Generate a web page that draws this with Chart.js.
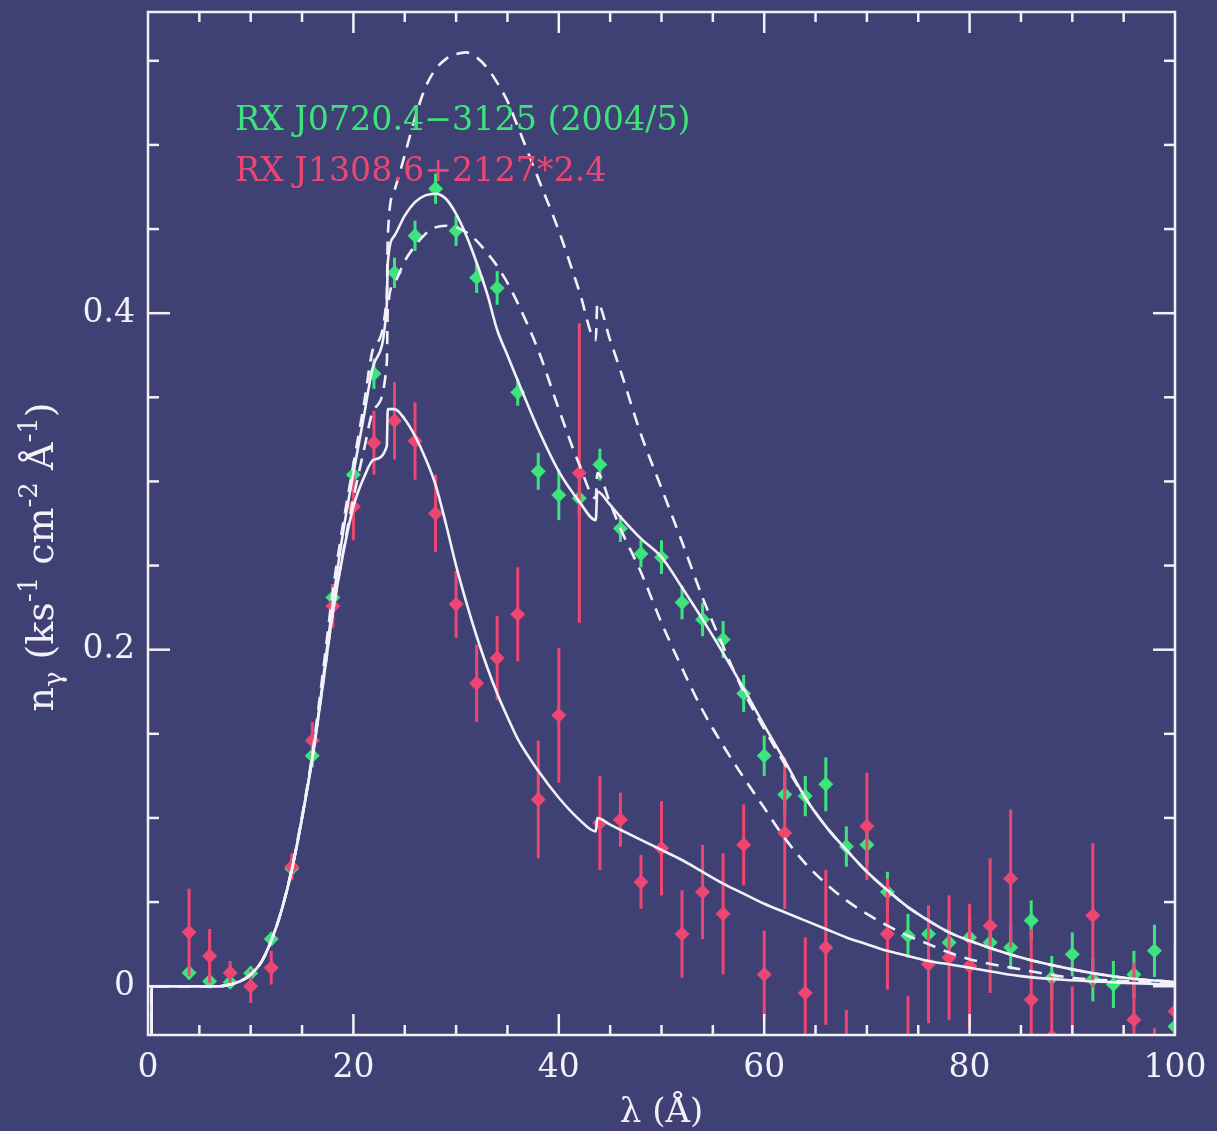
<!DOCTYPE html>
<html>
<head>
<meta charset="utf-8">
<script src="https://cdn.jsdelivr.net/npm/chart.js@4.4.1/dist/chart.umd.min.js"></script>
<style>
  html, body { margin: 0; padding: 0; background: #3f4175; }
  #wrap { width: 1217px; height: 1131px; position: relative; }
</style>
</head>
<body>
<div id="wrap"><canvas id="spec"></canvas></div>
<script>
// binned spectra, wavelength in Angstrom
const lam = [4,6,8,10,12,14,16,18,20,22,24,26,28,30,32,34,36,38,40,42,44,46,48,50,52,
             54,56,58,60,62,64,66,68,70,72,74,76,78,80,82,84,86,88,90,92,94,96,98,100];

// RX J0720.4-3125 (2004/5)
const greenFlux = [0.008,0.003,0.0024,0.0077,0.028,0.070,0.137,0.231,0.304,0.364,0.424,0.446,0.474,
                   0.449,0.421,0.415,0.353,0.306,0.292,0.290,0.310,0.272,0.257,0.255,0.228,0.218,
                   0.206,0.174,0.137,0.114,0.113,0.120,0.083,0.084,0.056,0.030,0.031,0.026,0.029,
                   0.026,0.023,0.039,0.005,0.019,0.004,0.001,0.007,0.021,-0.024];
const greenErr  = [0.004,0.004,0.003,0.004,0.004,0.006,0.007,0.008,0.008,0.009,0.009,0.009,0.009,
                   0.009,0.009,0.010,0.008,0.011,0.015,0.010,0.0095,0.008,0.008,0.010,0.010,0.010,
                   0.011,0.011,0.012,0.012,0.012,0.016,0.012,0.012,0.012,0.013,0.013,0.013,0.013,
                   0.013,0.013,0.012,0.013,0.013,0.013,0.014,0.014,0.0155,0.015];

// RX J1308.6+2127 scaled by 2.4
const redFlux = [0.032,0.018,0.008,0.000,0.011,0.071,0.146,0.226,0.285,0.323,0.336,0.324,0.281,
                 0.227,0.180,0.195,0.221,0.111,0.161,0.305,0.097,0.099,0.062,0.082,0.031,0.056,
                 0.043,0.084,0.007,0.091,-0.004,0.023,-0.055,0.095,0.031,-0.045,0.013,0.017,0.012,
                 0.036,0.064,-0.008,-0.030,-0.040,0.042,-0.090,-0.020,-0.060,-0.015];
const redErr  = [0.026,0.016,0.007,0.010,0.010,0.008,0.011,0.013,0.020,0.019,0.023,0.023,0.023,
                 0.020,0.023,0.025,0.028,0.035,0.040,0.089,0.028,0.016,0.016,0.028,0.026,0.028,
                 0.036,0.024,0.026,0.045,0.033,0.046,0.041,0.032,0.033,0.039,0.035,0.037,0.037,
                 0.040,0.041,0.042,0.036,0.040,0.043,0.040,0.034,0.035,0.039];

// model curves
const modelLam = [0.35,0.36,7, 8,9,10,11,12,13,14,15,16,17,18,19,20,21,22, 23.25,23.35,
                  24,25,26,27,28,29,30,31,32,33,34,35,36, 38,40,42, 43.6,43.75, 45,46,
                  48,50,52,54,56,58,60,62,64,66,68,70,72,74,76,78,80, 85,90,95,100];
const fitGreen = [-0.05,0,0, 0.001,0.003,0.007,0.014,0.027,0.045,0.069,0.100,0.136,0.180,0.228,0.270,0.305,0.338,0.370,
                  0.405,0.430, 0.446,0.458,0.466,0.470,0.471,0.468,0.459,0.446,0.430,0.412,0.390,0.375,0.360,
                  0.331,0.306,0.288, 0.277,0.294, 0.286,0.279,
                  0.266,0.255,0.237,0.218,0.198,0.177,0.155,0.134,0.112,0.095,0.081,0.068,0.057,0.047,0.039,0.032,0.027,
                  0.017,0.010,0.005,0.0025];
const fitRed = [-0.05,0,0, 0.001,0.003,0.007,0.014,0.027,0.045,0.069,0.100,0.135,0.178,0.222,0.257,0.285,0.302,0.313,
                0.321,0.343, 0.343,0.337,0.327,0.314,0.298,0.275,0.250,0.228,0.208,0.190,0.174,0.160,0.147,
                0.128,0.112,0.099, 0.092,0.100, 0.096,0.093,
                0.087,0.081,0.075,0.068,0.061,0.055,0.049,0.044,0.039,0.034,0.029,0.025,0.021,0.018,0.015,0.013,0.011,
                0.006,0.0035,0.002,0.001];
const modelHot = [-0.05,0,0, 0.001,0.003,0.007,0.014,0.027,0.045,0.070,0.101,0.138,0.185,0.235,0.275,0.310,0.345,0.380,
                  0.410,0.446, 0.473,0.494,0.516,0.534,0.545,0.551,0.554,0.555,0.552,0.546,0.537,0.526,0.511,
                  0.480,0.449,0.413, 0.384,0.406, 0.384,0.366,
                  0.328,0.296,0.264,0.231,0.202,0.175,0.153,0.132,0.112,0.095,0.081,0.068,0.057,0.047,0.039,0.032,0.027,
                  0.017,0.010,0.005,0.0025];
const modelCool = [-0.05,0,0, 0.001,0.003,0.007,0.014,0.027,0.045,0.069,0.100,0.136,0.178,0.222,0.258,0.290,0.318,0.343,
                   0.370,0.402, 0.418,0.431,0.440,0.447,0.451,0.452,0.451,0.448,0.443,0.436,0.428,0.418,0.406,
                   0.378,0.343,0.310, 0.290,0.305, 0.287,0.272,
                   0.246,0.216,0.189,0.164,0.143,0.124,0.106,0.088,0.073,0.061,0.051,0.043,0.036,0.030,0.025,0.020,0.016,
                   0.010,0.005,0.003,0.002];

const xTicks = [0,20,40,60,80,100];
const yTicks = [0,0.2,0.4];
const labels = ['RX J0720.4\u22123125 (2004/5)', 'RX J1308.6+2127*2.4'];

const GREEN = '#3de47c', RED = '#ee4672', WHITE = '#f2f1f8';
const pts = (xs, ys) => xs.map((x, i) => ({x: x, y: ys[i]}));

function curve(ys, dash) {
    return {type: 'line', data: pts(modelLam, ys), borderColor: WHITE, borderWidth: 2.6,
            borderDash: dash, pointRadius: 0, cubicInterpolationMode: 'monotone', order: 0};
}
function spectrum(ys, errs, color, ord) {
    return {data: pts(lam, ys), errors: errs, backgroundColor: color, borderColor: color,
            borderWidth: 0, pointStyle: 'rectRot', pointRadius: 7.5, showLine: false, order: ord};
}

// vertical error bars, drawn just before the points of the same dataset
const errBars = {
    id: 'errBars',
    beforeDatasetDraw(chart, args) {
        const ds = chart.data.datasets[args.index];
        if (!ds.errors) return;
        const {ctx, chartArea: a, scales: {x, y}} = chart;
        ctx.save();
        ctx.beginPath();
        ctx.rect(a.left, a.top, a.right - a.left, a.bottom - a.top);
        ctx.clip();
        ctx.strokeStyle = ds.borderColor;
        ctx.lineWidth = 3;
        ds.data.forEach((p, i) => {
            const px = x.getPixelForValue(p.x);
            ctx.beginPath();
            ctx.moveTo(px, y.getPixelForValue(p.y - ds.errors[i]));
            ctx.lineTo(px, y.getPixelForValue(p.y + ds.errors[i]));
            ctx.stroke();
        });
        ctx.restore();
    }
};

// box, inward ticks on all sides, legend text and axis titles
const frame = {
    id: 'frame',
    afterDraw(chart) {
        const {ctx, chartArea: a, scales: {x, y}} = chart;
        const seg = (x1, y1, x2, y2) => { ctx.beginPath(); ctx.moveTo(x1, y1); ctx.lineTo(x2, y2); ctx.stroke(); };
        ctx.save();
        ctx.strokeStyle = WHITE;
        ctx.lineWidth = 2.5;
        ctx.strokeRect(a.left, a.top, a.right - a.left, a.bottom - a.top);
        for (let v = 5; v < 100; v += 5) {
            const px = x.getPixelForValue(v);
            const len = xTicks.includes(v) ? 21 : 10;
            seg(px, a.bottom, px, a.bottom - len);
            seg(px, a.top, px, a.top + len);
        }
        for (let k = 1; k <= 11; k++) {
            const v = k * 0.05;
            const py = y.getPixelForValue(v);
            const len = (k % 4 === 0) ? 22 : 11;
            seg(a.left, py, a.left + len, py);
            seg(a.right, py, a.right - len, py);
        }
        const p0 = y.getPixelForValue(0);
        seg(a.left, p0, a.left + 22, p0);
        seg(a.right, p0, a.right - 22, p0);

        // legend lines, serif, first line about 455px wide
        ctx.font = '30px "DejaVu Serif"';
        const fs = Math.min(34, 30 * 455 / ctx.measureText(labels[0]).width);
        ctx.font = fs.toFixed(1) + 'px "DejaVu Serif"';
        ctx.textBaseline = 'alphabetic';
        ctx.fillStyle = GREEN;
        ctx.fillText(labels[0], 235, 130);
        ctx.fillStyle = RED;
        ctx.fillText(labels[1], 235, 181);

        // x title
        ctx.fillStyle = WHITE;
        ctx.font = '34px "DejaVu Serif"';
        ctx.textAlign = 'center';
        ctx.fillText('\u03bb (\u00c5)', (a.left + a.right) / 2, 1122);

        // y title with sub/superscripts
        const parts = [['n', 0, 38], ['\u03b3', 9, 26], [' (ks', 0, 38], ['-1', -16, 26], [' cm', 0, 38],
                       ['-2', -16, 26], [' \u00c5', 0, 38], ['-1', -16, 26], [')', 0, 38]];
        let total = 0;
        parts.forEach(p => { ctx.font = p[2] + 'px "DejaVu Serif"'; total += ctx.measureText(p[0]).width; });
        ctx.translate(53, 557);
        ctx.rotate(-Math.PI / 2);
        ctx.textAlign = 'left';
        let cx = -total / 2;
        parts.forEach(p => {
            ctx.font = p[2] + 'px "DejaVu Serif"';
            ctx.fillText(p[0], cx, p[1]);
            cx += ctx.measureText(p[0]).width;
        });
        ctx.restore();
    }
};

function noPad(s) {
    s.paddingTop = 0; s.paddingBottom = 0; s.paddingLeft = 0; s.paddingRight = 0;
}

new Chart(document.getElementById('spec'), {
    type: 'scatter',
    data: {
        datasets: [
            curve(fitGreen, []),
            curve(fitRed, []),
            curve(modelHot, [13, 9]),
            curve(modelCool, [13, 9]),
            spectrum(redFlux, redErr, RED, 1),
            spectrum(greenFlux, greenErr, GREEN, 2)
        ]
    },
    options: {
        responsive: true,
        maintainAspectRatio: false,
        animation: false,
        events: [],
        layout: {padding: {top: 12, right: 42, left: 0, bottom: 0}},
        plugins: {legend: {display: false}, tooltip: {enabled: false}},
        scales: {
            x: {
                type: 'linear', min: 0, max: 100,
                grid: {display: false, drawTicks: false}, border: {display: false},
                afterBuildTicks: s => { s.ticks = xTicks.map(v => ({value: v})); },
                afterFit: s => { s.height = 96; noPad(s); },
                ticks: {color: WHITE, padding: 14, maxRotation: 0, font: {family: 'DejaVu Serif', size: 33}}
            },
            y: {
                type: 'linear', min: -0.029, max: 0.579,
                grid: {display: false, drawTicks: false}, border: {display: false},
                afterBuildTicks: s => { s.ticks = yTicks.map(v => ({value: v})); },
                afterFit: s => { s.width = 148; noPad(s); },
                ticks: {color: WHITE, padding: 13, font: {family: 'DejaVu Serif', size: 33}}
            }
        }
    },
    plugins: [errBars, frame]
});
</script>
</body>
</html>
